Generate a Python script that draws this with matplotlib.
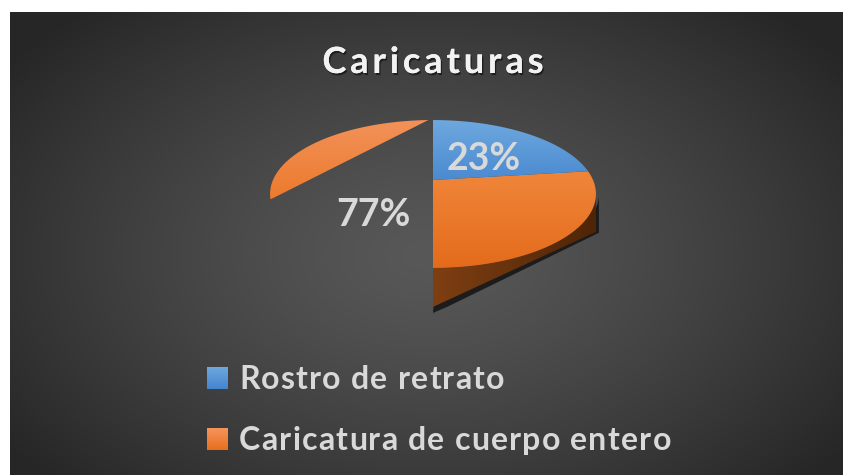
import numpy as np
import matplotlib
matplotlib.use('Agg')
import matplotlib.pyplot as plt
from matplotlib.patches import Polygon
import matplotlib.patheffects as pe
from matplotlib.colors import LinearSegmentedColormap
from matplotlib.font_manager import FontProperties, findfont
from matplotlib.ft2font import FT2Font

# data
labels = ['Rostro de retrato', 'Caricatura de cuerpo entero']
values = [23, 77]
colors = ['#5b9bd5', '#ed7d31']
title = 'Caricaturas'

W, H = 843, 475
DPI = 100
fig = plt.figure(figsize=(W / DPI, H / DPI), dpi=DPI)
ax = fig.add_axes([0, 0, 1, 1])
ax.set_xlim(0, W)
ax.set_ylim(H, 0)
ax.axis('off')
fig.patch.set_facecolor('white')

FONT = 'Lato'

# dark radial background (chart area)
x0, y0 = 10, 12
gx, gy = np.meshgrid(np.linspace(x0, W, 400), np.linspace(y0, H, 240))
r = np.sqrt(((gx - 428) / 520) ** 2 + ((gy - 255) / 330) ** 2)
val = 0.345 - (0.345 - 0.15) * np.clip(r, 0, 1) ** 1.3
bg = np.dstack([val, val, val])
ax.imshow(bg, extent=[x0, W, H, y0], origin='upper', zorder=0, aspect='auto',
          interpolation='bilinear')


def grad_fill(verts, c1, c2, horizontal=False, z=2):
    verts = np.asarray(verts)
    poly = Polygon(verts, closed=True, facecolor='none', edgecolor='none')
    ax.add_patch(poly)
    xmin, ymin = verts.min(axis=0)
    xmax, ymax = verts.max(axis=0)
    cmap = LinearSegmentedColormap.from_list('g', [c1, c2])
    g = np.linspace(0, 1, 256)
    img = g[None, :] if horizontal else g[:, None]
    im = ax.imshow(img, cmap=cmap, extent=[xmin, xmax, ymax, ymin], origin='upper',
                   aspect='auto', zorder=z, interpolation='bilinear')
    im.set_clip_path(poly)


def advances(s, size):
    font = FT2Font(findfont(FontProperties(family=FONT, weight='bold')))
    font.set_size(size, DPI)
    out = []
    for ch in s:
        g = font.load_char(ord(ch))
        out.append(g.linearHoriAdvance / 65536)
    return out


def spaced_text(x, y, s, size, tracking, ha='left', **kw):
    adv = advances(s, size)
    total = sum(adv) + tracking * (len(s) - 1)
    if ha == 'center':
        x = x - total / 2
    for ch, a in zip(s, adv):
        ax.text(x, y, ch, ha='left', va='baseline', fontsize=size,
                fontweight='bold', family=FONT, **kw)
        x += a + tracking


# perspective projection of the 3D pie (angle clockwise from 12 o'clock)
cx, cy, Rx, Ry, k, depth = 433, 180, 160, 71.3, 0.189, 39


def proj(theta, rad=1.0, z=0.0):
    t = np.radians(theta)
    u, v = rad * np.sin(t), rad * np.cos(t)
    d = 1 + k * v
    return np.column_stack([cx + Rx * u / d, cy - Ry * v / d + z])


def arc(a, b, n=80):
    return proj(np.linspace(a, b, n))


fracs = np.array(values) / sum(values)
edges = np.concatenate([[0], np.cumsum(fracs) * 360])

# blue wedge
blue = np.vstack([[[cx, cy]], arc(edges[0], edges[1])])
# orange wedge (only right half rendered, as in the original)
orange = np.vstack([[[cx, cy]], arc(edges[1], 180)])
# stray orange sliver on the upper left
sliver = arc(255, 358)

# side wall of orange slice
top_wall = arc(100, 180)
bot_a = proj(180, z=depth)
bot_b = proj(100, z=depth)
wall = np.vstack([top_wall, bot_a, bot_b])
shadow = np.vstack([top_wall + [3, 0], bot_a + [0, 6], bot_a + [14, 0], bot_b + [3, 1]])
ax.add_patch(Polygon(shadow, closed=True, facecolor='#1c1c1c', edgecolor='none', zorder=1.5))
grad_fill(wall, '#7e3f12', '#4f2507', horizontal=True, z=2)

grad_fill(orange, '#f0863a', '#e46b1b', z=3)
grad_fill(blue, '#6ea8de', '#4a8ad0', z=3)
grad_fill(sliver, '#f2925a', '#ec7a2c', z=3)

# percentage labels
mids = (edges[:-1] + edges[1:]) / 2
for m, f in zip(mids, fracs):
    p = proj(m, rad=0.52)[0]
    ax.text(p[0], p[1] + 16, f'{f * 100:.0f}%', ha='center', va='baseline',
            fontsize=27, fontweight='bold', color='#d9d9d9', family=FONT, zorder=5)

# title
spaced_text(433, 73, title, 26, 3.9, ha='center', color='#f2f2f2', zorder=5,
            path_effects=[pe.withSimplePatchShadow(offset=(1, -1.5), alpha=0.5,
                                                   shadow_rgbFace='black'), pe.Normal()])

# legend
leg_grad = [('#6ea8de', '#4384cf'), ('#f5955c', '#e86f1d')]
for i, (lab, (c1, c2)) in enumerate(zip(labels, leg_grad)):
    yb = 389 + i * 61
    sq = np.array([[207, yb - 22], [228, yb - 22], [228, yb], [207, yb]])
    grad_fill(sq, c1, c2, z=4)
    spaced_text(239, yb, lab, 23, 1.25, color='#d9d9d9', zorder=5)

fig.savefig('out.png', dpi=DPI, facecolor='white')
plt.close(fig)
